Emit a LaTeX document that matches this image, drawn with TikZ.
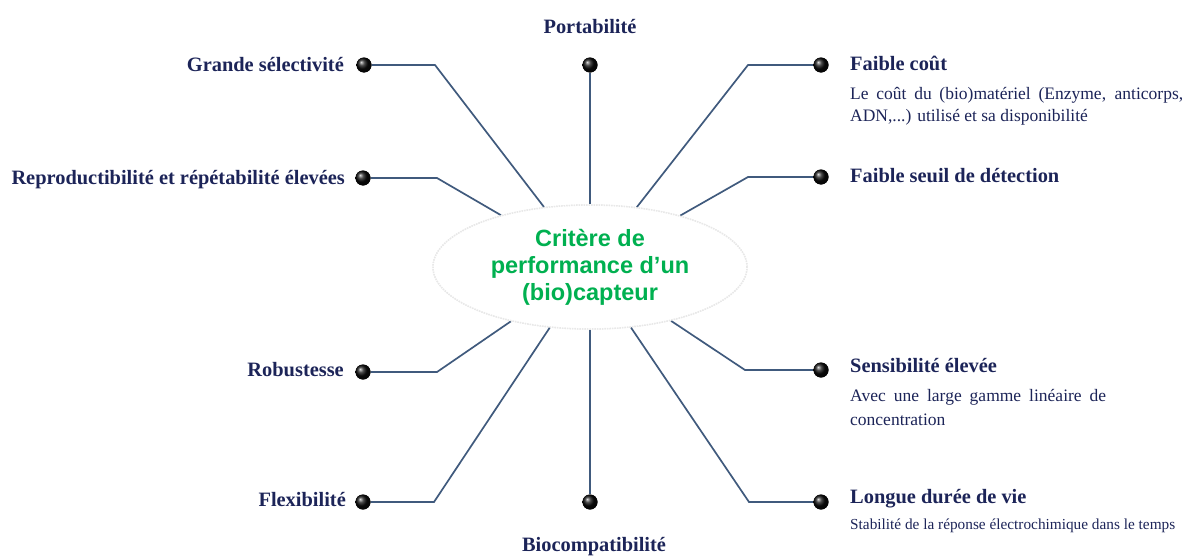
\documentclass[tikz,border=0pt]{standalone}
\usepackage{fontspec}
\setmainfont{Liberation Serif}
\newfontfamily\critfont{Liberation Sans}
\usetikzlibrary{shapes.geometric}
\definecolor{navy}{RGB}{28,36,88}
\definecolor{linec}{RGB}{64,90,125}
\definecolor{critgreen}{RGB}{0,176,80}
\tikzset{
  lab/.style={font=\fontsize{20.4}{24}\selectfont\bfseries, text=navy, inner sep=0pt},
  labL/.style={lab, anchor=base east},
  labR/.style={lab, anchor=base west},
  subtxt/.style={font=\fontsize{17.5}{22}\selectfont, text=navy, inner sep=0pt, anchor=base west},
  smalltxt/.style={font=\fontsize{15.3}{18}\selectfont, text=navy, inner sep=0pt, anchor=base west},
  pin/.style={circle, minimum size=15pt, inner sep=0pt, ball color=black!95},
  conn/.style={draw=linec, line width=1.7pt},
  crit/.style={ellipse, minimum width=314pt, minimum height=124pt, inner sep=0pt,
    fill=white, draw=black!9, line width=1.5pt, densely dotted,
    font=\critfont\fontsize{23.5}{27}\selectfont\bfseries, text=critgreen, align=center},
}
\begin{document}
\begin{tikzpicture}[x=1pt,y=-1pt]
\useasboundingbox (0,0) rectangle (1187,557);

% central ellipse
\node[crit] (c) at (590,267) {Critère de\\performance d’un\\(bio)capteur};

% pins
\node[pin] (pG) at (364,65) {};
\node[pin] (pR) at (363,178) {};
\node[pin] (pRo) at (363,372) {};
\node[pin] (pF) at (363,502) {};
\node[pin] (pP) at (590,65) {};
\node[pin] (pB) at (590,502) {};
\node[pin] (pC) at (821,65) {};
\node[pin] (pS) at (821,177) {};
\node[pin] (pSe) at (821,370) {};
\node[pin] (pL) at (821,502) {};

% corners
\coordinate (kG) at (435,65);
\coordinate (kR) at (437,178);
\coordinate (kRo) at (437,372);
\coordinate (kF) at (434,502);
\coordinate (kC) at (748,65);
\coordinate (kS) at (748,177);
\coordinate (kSe) at (745,370);
\coordinate (kL) at (749,502);

% connectors
\draw[conn] (pG) -- (kG) -- (c);
\draw[conn] (pR) -- (kR) -- (c);
\draw[conn] (pRo) -- (kRo) -- (c);
\draw[conn] (pF) -- (kF) -- (c);
\draw[conn] (pP) -- (c);
\draw[conn] (pB) -- (c);
\draw[conn] (pC) -- (kC) -- (c);
\draw[conn] (pS) -- (kS) -- (c);
\draw[conn] (pSe) -- (kSe) -- (c);
\draw[conn] (pL) -- (kL) -- (c);

% redraw ellipse on top
\node[crit] (c2) at (c) {Critère de\\performance d’un\\(bio)capteur};
\foreach \p in {pG,pR,pRo,pF,pP,pB,pC,pS,pSe,pL} \node[pin] at (\p) {};

% left labels
\node[labL] (tG) at (344,71) {Grande sélectivité};
\node[labL] (tR) at (345,184) {Reproductibilité et répétabilité élevées};
\node[labL] (tRo) at (344,376) {Robustesse};
\node[labL] (tF) at (346,506) {Flexibilité};

% top / bottom labels
\node[lab, anchor=base] (tP) at (590,33) {Portabilité};
\node[lab, anchor=base] (tB) at (594,551) {Biocompatibilité};

% right labels
\node[labR] (tC) at (850,70) {Faible coût};
\node[subtxt] (tC1) at (850,99) {\makebox[333pt][s]{Le coût du (bio)matériel (Enzyme, anticorps,}};
\node[subtxt] (tC2) at (850,121) {ADN,...) utilisé et sa disponibilité};
\node[labR] (tS) at (850,182) {Faible seuil de détection};
\node[labR] (tSe) at (850,372) {Sensibilité élevée};
\node[subtxt] (tSe1) at (850,401) {\makebox[256pt][s]{Avec une large gamme linéaire de}};
\node[subtxt] (tSe2) at (850,425) {concentration};
\node[labR] (tL) at (850,503) {Longue durée de vie};
\node[smalltxt] (tL1) at (850,529) {Stabilité de la réponse électrochimique dans le temps};
\end{tikzpicture}
\end{document}
